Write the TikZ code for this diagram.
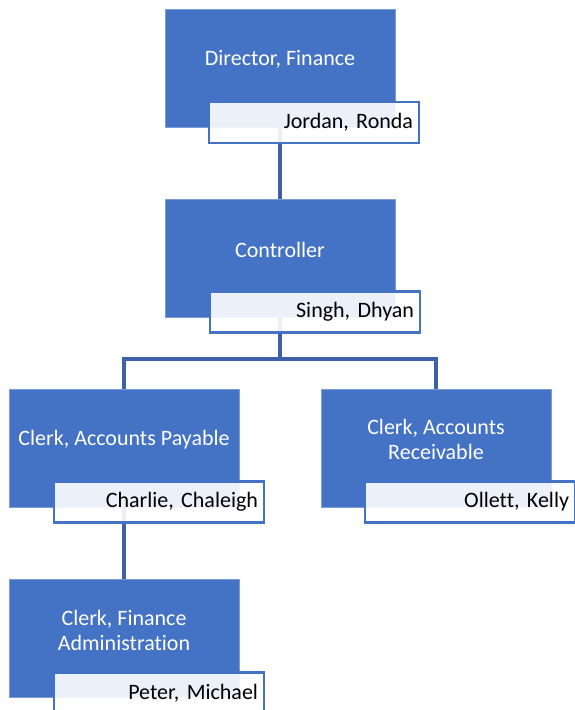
\documentclass[tikz,border=0pt]{standalone}
\usepackage{fontspec}
\setmainfont[Ligatures=NoCommon]{Carlito}
\usepackage{tikz}
\usetikzlibrary{positioning}
\definecolor{box_blue}{RGB}{68,114,196}
\definecolor{edge_blue}{RGB}{60,96,170}
\frenchspacing

\begin{document}
\begin{tikzpicture}[x=1pt,y=-1pt,semithick]
    \tikzstyle{unit}=[fill=box_blue, draw=box_blue!70!white, line width=0.6pt, minimum width=230pt, minimum height=118pt, inner sep=0pt]
    \tikzstyle{title}=[text=white, align=center, font=\fontsize{22}{25}\selectfont]
    \tikzstyle{person}=[fill=white, fill opacity=0.9, text opacity=1, draw=box_blue, line width=2.6pt, text width=198pt, align=right, minimum height=41pt, inner xsep=6pt, inner ysep=0pt, font=\fontsize{22}{25}\selectfont]
    \tikzstyle{link}=[draw=edge_blue, line width=3.2pt]
    \useasboundingbox (0,0) rectangle (574,710);

    % units
    \node[unit] (dir)  at (280,68)    {};
    \node[unit] (ctrl) at (280,258)   {};
    \node[unit] (ap)   at (124,448)   {};
    \node[unit] (ar)   at (436,448)   {};
    \node[unit] (fa)   at (124,638.5) {};

    % reporting lines
    \coordinate (split) at (280,359);
    \path[link] (dir.south) -- (ctrl.north);
    \path[link] (ctrl.south) -- (split) -| (ap.north);
    \path[link] (split) -| (ar.north);
    \path[link] (ap.south) -- (fa.north);

    % titles
    \node[title] (dirt)  at ([yshift=-51pt]dir.north)  {Director, Finance};
    \node[title] (ctrlt) at ([yshift=-51pt]ctrl.north) {Controller};
    \node[title] (apt)   at ([yshift=-51pt]ap.north)   {Clerk, Accounts Payable};
    \node[title] (art)   at ([yshift=-51pt]ar.north)   {Clerk, Accounts\\Receivable};
    \node[title] (fat)   at ([yshift=-51pt]fa.north)   {Clerk, Finance\\Administration};

    % names
    \node[person] (dirn)  at (314,122.5) {Jordan, Ronda};
    \node[person] (ctrln) at (315,312)   {Singh, Dhyan};
    \node[person] (apn)   at (159,502)   {Charlie, Chaleigh};
    \node[person] (arn)   at (470,502)   {Ollett, Kelly};
    \node[person] (fan)   at (159,693)   {Peter, Michael};
\end{tikzpicture}
\end{document}
